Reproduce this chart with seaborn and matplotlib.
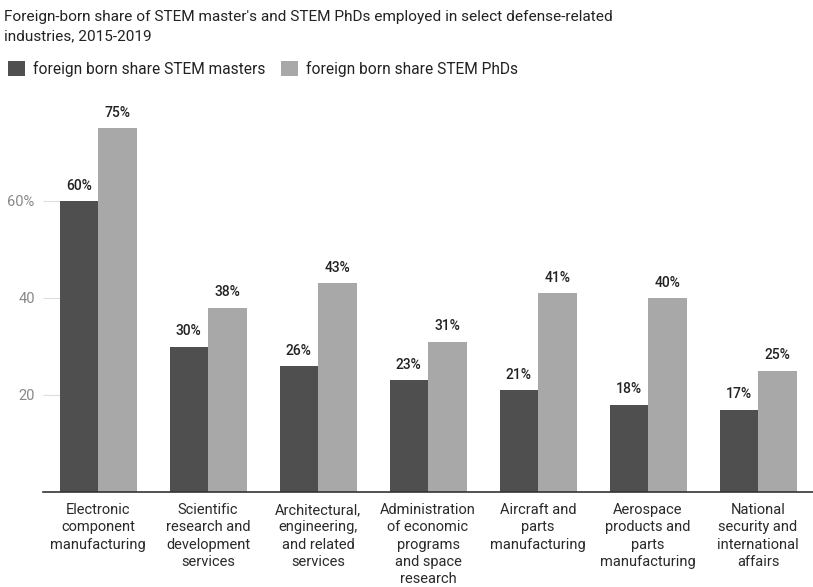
import matplotlib
matplotlib.use("Agg")
import matplotlib.pyplot as plt
import seaborn as sns
import pandas as pd
from matplotlib.patches import Patch

categories = [
    "Electronic\ncomponent\nmanufacturing",
    "Scientific\nresearch and\ndevelopment\nservices",
    "Architectural,\nengineering,\nand related\nservices",
    "Administration\nof economic\nprograms\nand space\nresearch",
    "Aircraft and\nparts\nmanufacturing",
    "Aerospace\nproducts and\nparts\nmanufacturing",
    "National\nsecurity and\ninternational\naffairs",
]
masters = [60, 30, 26, 23, 21, 18, 17]
phds = [75, 38, 43, 31, 41, 40, 25]
series = ["foreign born share STEM masters", "foreign born share STEM PhDs"]
colors = ["#4f4f4f", "#a8a8a8"]
ytick_vals = [20, 40, 60]
ytick_labels = ["20", "40", "60%"]

df = pd.DataFrame({
    "category": categories * 2,
    "value": masters + phds,
    "series": [series[0]] * len(categories) + [series[1]] * len(categories),
})

sns.set_theme(style="white")
plt.rcParams["font.family"] = ["Roboto", "DejaVu Sans"]

fig = plt.figure(figsize=(8.13, 5.87), dpi=100)
ax = fig.add_axes([43 / 813, 1 - 492 / 587, 1 - 43 / 813, (492 - 104) / 587])

sns.barplot(data=df, x="category", y="value", hue="series", palette=colors,
            width=0.7, saturation=1, ax=ax, legend=False, order=categories,
            hue_order=series, linewidth=0, edgecolor="none")

for container in ax.containers:
    ax.bar_label(container, labels=[f"{v:.0f}%" for v in container.datavalues],
                 padding=6, fontsize=10, color="#222222", fontweight="medium")

ax.set_ylim(0, 80)
ax.set_xlim(-0.5, 6.5)
ax.set_yticks(ytick_vals)
ax.set_yticklabels(ytick_labels)
ax.tick_params(axis="y", length=12, width=0.8, color="#dddddd", direction="in",
               labelsize=10.5, labelcolor="#888888", pad=6, left=True)
ax.tick_params(axis="x", length=0, labelsize=10.5, labelcolor="#2a2a2a", pad=8)
for lbl in ax.get_xticklabels():
    lbl.set_linespacing(1.3)
ax.set_xlabel("")
ax.set_ylabel("")
for s in ["top", "right", "left"]:
    ax.spines[s].set_visible(False)
ax.spines["bottom"].set_color("#333333")
ax.spines["bottom"].set_linewidth(1.2)

fig.text(4 / 813, 1 - 10 / 587,
         "Foreign-born share of STEM master's and STEM PhDs employed in select defense-related\nindustries, 2015-2019",
         ha="left", va="top", fontsize=11.1, color="#222222", linespacing=1.45)

handles = [Patch(facecolor=c, edgecolor="none") for c in colors]
fig.legend(handles, series, loc="upper left", bbox_to_anchor=(2 / 813, 1 - 55 / 587),
           ncol=2, frameon=False, fontsize=11.2, handlelength=1.1, handleheight=1.1,
           handletextpad=0.5, columnspacing=1.0, borderaxespad=0, labelcolor="#222222")

fig.savefig("out.png", dpi=100)
